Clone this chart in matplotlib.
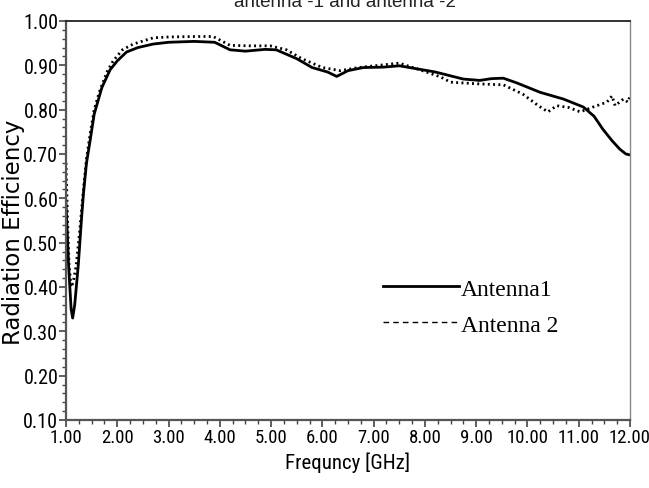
import matplotlib
matplotlib.use("Agg")
import matplotlib.pyplot as plt
from matplotlib.lines import Line2D
from matplotlib.ticker import MultipleLocator, FormatStrFormatter

# ---- data ----
freq1 = [1.00, 1.05, 1.10, 1.13, 1.17, 1.24, 1.30, 1.34, 1.40, 1.47, 1.55, 1.60, 1.70,
         1.86, 2.00, 2.18, 2.40, 2.70, 3.00, 3.50, 3.90, 4.20, 4.50, 4.88, 5.10, 5.50,
         5.80, 6.10, 6.28, 6.50, 6.80, 7.20, 7.50, 7.80, 8.20, 8.75, 9.07, 9.30, 9.53,
         9.80, 10.25, 10.70, 11.09, 11.30, 11.47, 11.65, 11.80, 11.92, 12.00]
eff1 = [0.59, 0.45, 0.35, 0.33, 0.36, 0.45, 0.55, 0.61, 0.68, 0.73, 0.79, 0.81, 0.85,
        0.89, 0.91, 0.93, 0.94, 0.948, 0.952, 0.954, 0.952, 0.935, 0.932, 0.936, 0.935, 0.915,
        0.895, 0.885, 0.875, 0.888, 0.895, 0.896, 0.899, 0.893, 0.885, 0.869, 0.866, 0.870, 0.871,
        0.860, 0.839, 0.824, 0.806, 0.785, 0.756, 0.730, 0.711, 0.700, 0.698]

freq2 = [1.00, 1.03, 1.06, 1.10, 1.14, 1.20, 1.27, 1.34, 1.40, 1.47, 1.55, 1.65, 1.80,
         1.92, 2.10, 2.31, 2.70, 3.00, 3.50, 3.87, 4.20, 4.60, 4.98, 5.30, 5.60, 6.00,
         6.35, 6.70, 7.10, 7.50, 7.90, 8.30, 8.50, 9.07, 9.53, 9.91, 10.20, 10.40, 10.57,
         10.80, 11.03, 11.28, 11.55, 11.65, 11.71, 11.87, 11.96, 12.00]
eff2 = [0.68, 0.55, 0.45, 0.40, 0.41, 0.45, 0.53, 0.62, 0.69, 0.745, 0.80, 0.84, 0.885,
        0.91, 0.935, 0.948, 0.962, 0.964, 0.965, 0.965, 0.945, 0.944, 0.944, 0.935, 0.915, 0.895,
        0.888, 0.895, 0.900, 0.905, 0.890, 0.874, 0.862, 0.858, 0.856, 0.835, 0.810, 0.795, 0.809,
        0.805, 0.795, 0.806, 0.817, 0.831, 0.809, 0.824, 0.817, 0.830]

series_labels = ["Antenna1", "Antenna 2"]
title_text = "antenna -1 and antenna -2"
xlabel_text = "Frequncy [GHz]"
ylabel_text = "Radiation Efficiency"

narrow = ["Roboto Condensed", "DejaVu Sans Condensed", "Open Sans Condensed",
          "Liberation Sans Narrow", "Roboto"]

fig = plt.figure(figsize=(6.49, 4.89), dpi=100)
ax = fig.add_axes([66/649, 1 - 421/489, (630-66)/649, (421-22)/489])

ax.plot(freq1, eff1, color="black", lw=2.0, solid_capstyle="round")
ax.plot(freq2, eff2, color="black", lw=2.0, linestyle=(0, (0.7, 1.2)))

ax.set_xlim(1, 12)
ax.set_ylim(0.10, 1.00)
ax.xaxis.set_major_locator(MultipleLocator(1))
ax.xaxis.set_minor_locator(MultipleLocator(0.25))
ax.yaxis.set_major_locator(MultipleLocator(0.1))
ax.yaxis.set_minor_locator(MultipleLocator(0.02))
ax.xaxis.set_major_formatter(FormatStrFormatter("%.2f"))
ax.yaxis.set_major_formatter(FormatStrFormatter("%.2f"))

ax.tick_params(axis="both", which="major", direction="out", length=5, width=1.2,
               color="#444444", labelsize=14.5, pad=0.5)
ax.tick_params(axis="x", which="major", labelsize=13.5)
ax.tick_params(axis="both", which="minor", direction="out", length=2.8, width=1.0,
               color="#444444")
for lab in ax.get_xticklabels() + ax.get_yticklabels():
    lab.set_family(narrow)

for side in ["left", "bottom"]:
    ax.spines[side].set_linewidth(1.6)
    ax.spines[side].set_color("#555555")
ax.spines["top"].set_linewidth(1.3)
ax.spines["top"].set_color("#222222")
ax.spines["right"].set_linewidth(1.0)
ax.spines["right"].set_color("#888888")

ax.set_xlabel(xlabel_text, family=narrow, fontsize=15, labelpad=4)
ax.set_ylabel(ylabel_text, family=["DejaVu Sans"], fontsize=16.5)
ax.yaxis.set_label_coords((25 - 66) / 564, 0.474)

fig.text(345/649, 1 - 7/489, title_text, ha="center", va="baseline",
         family=["Liberation Sans", "DejaVu Sans"], fontsize=13.5, color="#222222")

handles = [Line2D([], [], color="black", lw=2.0),
           Line2D([], [], color="black", lw=1.0, linestyle=(0, (4, 3)))]
ax.legend(handles, series_labels, loc="upper left",
          bbox_to_anchor=((383-66)/564, (421-279)/399),
          frameon=False, borderpad=0, borderaxespad=0, handlelength=3.2,
          handletextpad=0.1, labelspacing=0.62,
          prop={"family": ["Liberation Serif", "DejaVu Serif"], "size": 17})

fig.savefig("out.png", dpi=100)
